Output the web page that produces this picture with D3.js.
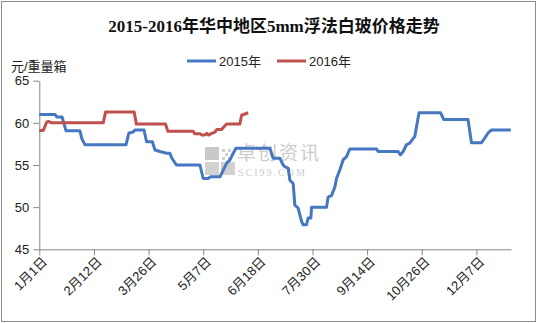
<!DOCTYPE html>
<html>
<head>
<meta charset="utf-8">
<script src="https://cdn.jsdelivr.net/npm/d3@7"></script>
<style>
  body { margin: 0; background: #fff; }
  svg { display: block; }
  text { font-family: "Liberation Sans", Arial, "Noto Sans CJK SC", sans-serif; }
</style>
</head>
<body>
<svg id="chart" width="537" height="323"></svg>
<script>
const WIDTH = 537;
const HEIGHT = 323;
const MARGIN = { top: 80.7, right: 26, bottom: 73.7, left: 39.3 };

// category index of each x tick and its label
const tickIndex = [0, 30, 60, 90, 120, 150, 180, 210, 240];
const tickLabels = ['1月1日', '2月12日', '3月26日', '5月7日', '6月18日', '7月30日', '9月14日', '10月26日', '12月7日'];
const categoryCount = 259;
const yTicks = [45, 50, 55, 60, 65];

// [category index, price]
const series2015 = [
  [0, 61.0], [8.6, 61.0], [9.7, 60.7], [12.5, 60.7], [14.7, 59.05], [22.3, 59.05],
  [23.4, 58.1], [25.1, 57.4], [47.6, 57.4], [49.2, 58.8], [51.4, 58.9], [52.5, 59.15],
  [57.5, 59.15], [58.9, 57.76], [62.1, 57.76], [63.5, 56.78], [66.2, 56.6], [69.9, 56.4],
  [71.7, 56.4], [72.8, 55.8], [75.3, 55.0], [88.2, 55.0], [90.0, 53.4], [92.7, 53.4],
  [94.1, 53.6], [99.2, 53.6], [101.0, 54.4], [102.8, 55.2], [104.7, 55.6], [106.5, 56.4],
  [108.0, 57.0], [126.6, 57.0], [128.4, 55.8], [132.1, 55.8], [133.9, 55.0], [134.8, 54.8],
  [136.7, 54.6], [137.6, 53.2], [139.4, 52.8], [140.3, 50.25], [142.1, 49.9], [144.0, 48.3],
  [144.9, 47.9], [146.7, 47.9], [147.6, 48.7], [149.1, 48.7], [149.5, 50.0], [157.7, 50.0],
  [158.6, 51.2], [160.5, 51.4], [162.3, 52.4], [163.2, 53.4], [165.0, 54.4], [166.8, 55.6],
  [168.7, 56.0], [170.5, 56.9], [185.2, 56.9], [186.0, 56.6], [197.0, 56.6], [198.3, 56.2],
  [199.8, 56.6], [201.6, 57.4], [203.4, 57.6], [206.2, 58.4], [207.1, 59.5], [208.5, 61.2],
  [220.3, 61.2], [222.1, 60.4], [235.4, 60.4], [237.3, 57.65], [242.8, 57.65], [244.6, 58.2],
  [246.4, 58.8], [248.3, 59.15], [258.9, 59.15]
];
const series2016 = [
  [0, 59.1], [2.2, 59.1], [4.1, 60.1], [5.3, 60.15], [6.8, 60.0], [35.1, 60.0],
  [36.4, 61.3], [52.1, 61.3], [53.3, 59.85], [69.3, 59.85], [70.6, 59.0], [84.5, 59.0],
  [85.4, 58.7], [88.2, 58.7], [89.3, 58.55], [90.7, 58.55], [91.9, 58.75], [92.9, 58.55],
  [94.6, 58.75], [96.4, 58.9], [97.4, 59.2], [100.1, 59.2], [102.8, 59.85], [110.1, 59.85],
  [111.1, 60.9], [112.9, 61.05], [114.7, 61.2]
];
const seriesNames = ['2015年', '2016年'];
const COLORS = ['#4677c1', '#c0504d'];

const svg = d3.select('#chart');
const innerW = WIDTH - MARGIN.left - MARGIN.right;
const innerH = HEIGHT - MARGIN.top - MARGIN.bottom;

// outer frame
svg.append('rect')
  .attr('x', 1.5).attr('y', 1.5)
  .attr('width', WIDTH - 3).attr('height', HEIGHT - 3)
  .attr('fill', '#fff').attr('stroke', '#8c8c8c').attr('stroke-width', 1);

// title
svg.append('text')
  .attr('x', 274).attr('y', 32)
  .attr('text-anchor', 'middle')
  .attr('font-size', 17)
  .attr('font-weight', 'bold')
  .style('font-family', '"Liberation Serif", "Noto Sans CJK SC", serif')
  .attr('fill', '#111')
  .text('2015-2016年华中地区5mm浮法白玻价格走势');

// y unit label
svg.append('text')
  .attr('x', 11).attr('y', 71)
  .attr('font-size', 13)
  .attr('fill', '#222')
  .text('元/重量箱');

// legend
const legend = svg.append('g').attr('class', 'legend');
const legendX = [187, 277];
seriesNames.forEach((name, i) => {
  const g = legend.append('g').attr('transform', `translate(${legendX[i]}, 61)`);
  g.append('line')
    .attr('x1', 0).attr('x2', 29)
    .attr('stroke', COLORS[i]).attr('stroke-width', 3);
  g.append('text')
    .attr('x', 32).attr('dy', '0.36em')
    .attr('font-size', 13)
    .attr('fill', '#222')
    .text(name);
});

const inner = svg.append('g')
  .attr('transform', `translate(${MARGIN.left}, ${MARGIN.top})`);

const x = d3.scaleLinear().domain([0, categoryCount]).range([0, innerW]);
const y = d3.scaleLinear().domain([45, 65]).range([innerH, 0]);

// watermark
const wm = inner.append('g').attr('transform', `translate(${205 - MARGIN.left}, ${147 - MARGIN.top})`);
wm.append('rect').attr('x', 0).attr('y', 0).attr('width', 14).attr('height', 13).attr('fill', '#c9c9c9');
wm.append('rect').attr('x', 0).attr('y', 15).attr('width', 14).attr('height', 13).attr('fill', '#d2d2d2');
wm.append('rect').attr('x', 16).attr('y', 15).attr('width', 14).attr('height', 13).attr('fill', '#d2d2d2');
[[17, 2], [23, 2], [20, 6], [26, 6], [17, 10], [23, 10]].forEach(([dx, dy]) => {
  wm.append('rect').attr('x', dx).attr('y', dy).attr('width', 3).attr('height', 3).attr('fill', '#cfcfcf');
});
wm.append('text')
  .attr('x', 32).attr('y', 13)
  .attr('font-size', 19)
  .attr('fill', '#cccccc')
  .attr('letter-spacing', 2)
  .style('font-family', '"Noto Sans CJK SC", sans-serif')
  .text('卓创资讯');
wm.append('text')
  .attr('x', 33).attr('y', 29)
  .attr('font-size', 10)
  .attr('fill', '#cccccc')
  .attr('letter-spacing', 2)
  .style('font-family', '"Liberation Serif", serif')
  .text('SCI99.COM');

// axes
const yAxis = d3.axisLeft(y).tickValues(yTicks).tickSize(6).tickSizeOuter(0).tickPadding(4);
const xAxis = d3.axisBottom(x).tickValues(tickIndex)
  .tickFormat((d, i) => tickLabels[i]).tickSize(6).tickSizeOuter(0);

const gy = inner.append('g').attr('class', 'yaxis').call(yAxis);
gy.selectAll('text').attr('font-size', 13).attr('fill', '#222')
  .style('font-family', '"Liberation Sans", Arial, sans-serif');

const gx = inner.append('g').attr('class', 'xaxis')
  .attr('transform', `translate(0, ${innerH})`)
  .call(xAxis);
gx.selectAll('text')
  .attr('font-size', 13).attr('fill', '#222')
  .attr('text-anchor', 'end')
  .attr('x', null).attr('y', null).attr('dy', '0.35em')
  .attr('transform', 'translate(5, 10) rotate(-45)');

inner.selectAll('.domain, .tick line').attr('stroke', '#868686');

// lines
const line = d3.line().x(d => x(d[0])).y(d => y(d[1]));
[series2015, series2016].forEach((s, i) => {
  inner.append('path')
    .datum(s)
    .attr('fill', 'none')
    .attr('stroke', COLORS[i])
    .attr('stroke-width', 3)
    .attr('stroke-linejoin', 'round')
    .attr('d', line);
});
</script>
</body>
</html>
